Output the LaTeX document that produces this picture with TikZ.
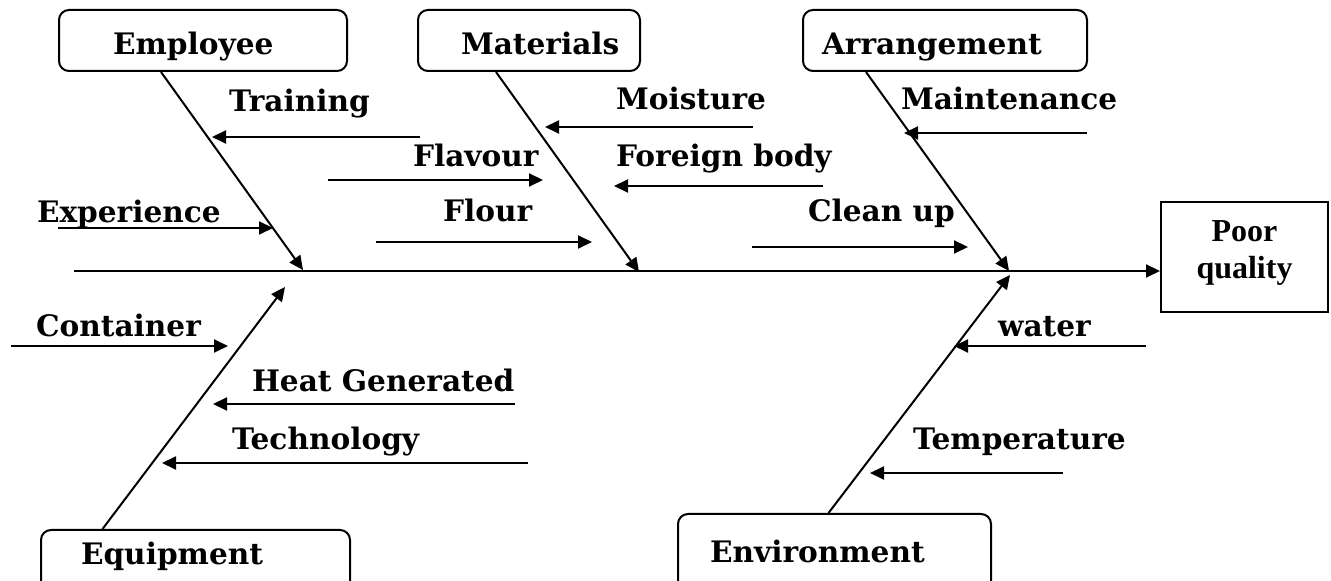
\documentclass[tikz,border=0pt]{standalone}
\usepackage{fontspec}
\setmainfont{DejaVu Serif}
\newfontfamily\timesfont{Liberation Serif}
\usetikzlibrary{arrows.meta}
\newcommand{\bodyfont}{\bfseries\fontsize{14.8}{18}\selectfont}
\newcommand{\effectfont}{\timesfont\bfseries\fontsize{16}{18.5}\selectfont}

\begin{document}
\begin{tikzpicture}[x=0.5pt,y=-0.5pt,font=\bodyfont,line width=1pt,
  catbox/.style={draw,rounded corners=5pt,minimum height=30.5pt,inner sep=0pt},
  lbl/.style={anchor=base west,inner sep=0pt},
  cause/.style={-{Triangle[length=7pt,width=6.5pt]}}]
\useasboundingbox (0,0) rectangle (1331,581);
\clip (0,0) rectangle (1331,581);

% category boxes
\node[catbox,minimum width=144pt] (emp) at (203,40.5) {};
\node[catbox,minimum width=111pt] (mat) at (529,40.5) {};
\node[catbox,minimum width=142pt] (arr) at (945,40.5) {};
\node[catbox,minimum width=154.5pt,minimum height=40pt,anchor=north] (equ) at (195.5,529) {};
\node[catbox,minimum width=156.5pt,minimum height=40pt,anchor=north] (env) at (834.5,513) {};
\node[lbl] (emp-t) at (112,55) {Employee};
\node[lbl] (mat-t) at (460,55) {Materials};
\node[lbl] (arr-t) at (821,55) {Arrangement};
\node[lbl] (equ-t) at (80,564) {Equipment};
\node[lbl] (env-t) at (709,562) {Environment};

% effect
\node[draw,minimum width=83.5pt,minimum height=55pt,inner sep=0pt] (poor) at (1244.5,257) {};
\node[align=center,font=\effectfont,inner sep=0pt,anchor=base] (poor-t) at (1244.5,279) {Poor\\quality};

% spine and bones
\coordinate (tail) at (74,271);
\coordinate (j-emp) at (303,270);
\coordinate (j-mat) at (639,272);
\coordinate (j-arr) at (1009,271);
\coordinate (j-equ) at (285,287);
\coordinate (j-env) at (1010,275);
\draw (tail) -- (j-arr);
\draw[cause] (j-arr) -- (j-arr -| poor.west);
\draw[cause] ([xshift=-21pt]emp.south) -- (j-emp);
\draw[cause] ([xshift=-16.5pt]mat.south) -- (j-mat);
\draw[cause] ([xshift=-39.5pt]arr.south) -- (j-arr);
\draw[cause] ([xshift=-46.5pt]equ.north) -- (j-equ);
\draw[cause] ([xshift=-3pt]env.north) -- (j-env);

% causes
\node[lbl] (training) at (228,112) {Training};
\coordinate (training-s) at (420,137); \coordinate (training-e) at (212,137);
\draw[cause] (training-s) -- (training-e);
\node[lbl] (experience) at (36,223) {Experience};
\coordinate (experience-s) at (58,228); \coordinate (experience-e) at (273,228);
\draw[cause] (experience-s) -- (experience-e);
\node[lbl] (flavour) at (412,167) {Flavour};
\coordinate (flavour-s) at (328,180); \coordinate (flavour-e) at (543,180);
\draw[cause] (flavour-s) -- (flavour-e);
\node[lbl] (flour) at (442,222) {Flour};
\coordinate (flour-s) at (376,242); \coordinate (flour-e) at (592,242);
\draw[cause] (flour-s) -- (flour-e);
\node[lbl] (moisture) at (615,110) {Moisture};
\coordinate (moisture-s) at (753,127); \coordinate (moisture-e) at (545,127);
\draw[cause] (moisture-s) -- (moisture-e);
\node[lbl] (foreign) at (615,167) {Foreign body};
\coordinate (foreign-s) at (823,186); \coordinate (foreign-e) at (614,186);
\draw[cause] (foreign-s) -- (foreign-e);
\node[lbl] (cleanup) at (807,222) {Clean up};
\coordinate (cleanup-s) at (752,247); \coordinate (cleanup-e) at (968,247);
\draw[cause] (cleanup-s) -- (cleanup-e);
\node[lbl] (maint) at (900,110) {Maintenance};
\coordinate (maint-s) at (1087,133); \coordinate (maint-e) at (904,133);
\draw[cause] (maint-s) -- (maint-e);
\node[lbl] (container) at (35,337) {Container};
\coordinate (container-s) at (11,346); \coordinate (container-e) at (228,346);
\draw[cause] (container-s) -- (container-e);
\node[lbl] (heat) at (251,392) {Heat Generated};
\coordinate (heat-s) at (515,404); \coordinate (heat-e) at (213,404);
\draw[cause] (heat-s) -- (heat-e);
\node[lbl] (techno) at (231,450) {Technology};
\coordinate (techno-s) at (528,463); \coordinate (techno-e) at (162,463);
\draw[cause] (techno-s) -- (techno-e);
\node[lbl] (water) at (997,337) {water};
\coordinate (water-s) at (1146,346); \coordinate (water-e) at (954,346);
\draw[cause] (water-s) -- (water-e);
\node[lbl] (temp) at (912,450) {Temperature};
\coordinate (temp-s) at (1063,473); \coordinate (temp-e) at (870,473);
\draw[cause] (temp-s) -- (temp-e);
\end{tikzpicture}
\end{document}
